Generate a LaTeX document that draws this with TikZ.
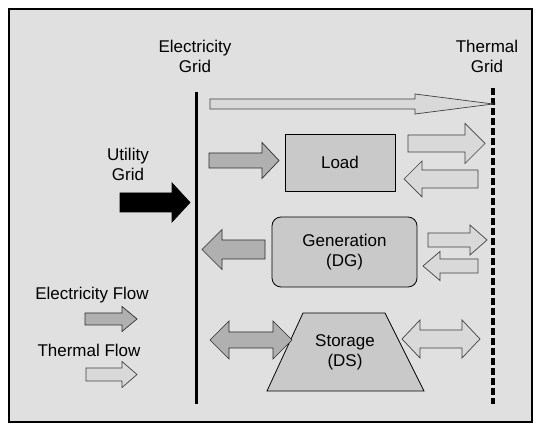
\documentclass[tikz,border=0pt]{standalone}
\usepackage{fontspec}
\setmainfont{Liberation Sans}
\newcommand{\rarr}[7]{\draw[#1] ({#2},{#4-#5}) -- ({#3-#7},{#4-#5}) -- ({#3-#7},{#4-#6}) -- ({#3},{#4}) -- ({#3-#7},{#4+#6}) -- ({#3-#7},{#4+#5}) -- ({#2},{#4+#5}) -- cycle;}
\newcommand{\larr}[7]{\draw[#1] ({#3},{#4-#5}) -- ({#2+#7},{#4-#5}) -- ({#2+#7},{#4-#6}) -- ({#2},{#4}) -- ({#2+#7},{#4+#6}) -- ({#2+#7},{#4+#5}) -- ({#3},{#4+#5}) -- cycle;}
\newcommand{\darr}[7]{\draw[#1] ({#2},{#4}) -- ({#2+#7},{#4-#6}) -- ({#2+#7},{#4-#5}) -- ({#3-#7},{#4-#5}) -- ({#3-#7},{#4-#6}) -- ({#3},{#4}) -- ({#3-#7},{#4+#6}) -- ({#3-#7},{#4+#5}) -- ({#2+#7},{#4+#5}) -- ({#2+#7},{#4+#6}) -- cycle;}
\tikzset{
  lbl/.style={font=\fontsize{17}{20}\selectfont, align=center, inner sep=0pt},
  box/.style={draw=black, line width=0.8pt, fill=gray!42},
  elec/.style={draw=gray!35!black, line width=0.7pt, fill=gray!62},
  therm/.style={draw=gray!50!black, line width=0.7pt, fill=gray!30},
  util/.style={draw=black, line width=0.7pt, fill=black},
  gridline/.style={line width=3pt, draw=black},
}
\begin{document}
\begin{tikzpicture}[x=1pt, y=-1pt]
\useasboundingbox (0,0) rectangle (539,427);
% frame
\draw[line width=1.8pt, fill=gray!24] (9,9) rectangle (532,422);
% grid lines
\coordinate (egtop) at (196,92);
\coordinate (egbot) at (196,404);
\coordinate (tgtop) at (493,88);
\coordinate (tgbot) at (493,404);
\draw[gridline] (egtop) -- (egbot);
\draw[gridline, line width=3.5pt, dash pattern=on 7pt off 3pt] (tgtop) -- (tgbot);
\node[lbl] (eglbl) at (195,56) {Electricity\\Grid};
\node[lbl] (tglbl) at (487,56) {Thermal\\Grid};
% boxes
\node[box, minimum width=110pt, minimum height=57pt, inner sep=0pt] (load) at (340,162.5) {};
\node[lbl] (loadt) at (load.center) {Load};
\node[box, rounded corners=9pt, minimum width=145pt, minimum height=70pt, inner sep=0pt] (gen) at (344.5,252) {};
\node[lbl] (gent) at (gen.center) {Generation\\(DG)};
\draw[box] (303,313) -- (385,313) -- (424,391) -- (267,391) -- cycle;
\node[lbl] (stor) at (345,352) {Storage\\(DS)};
% utility
\node[lbl] (util) at (128,164) {Utility\\Grid};
\rarr{util}{120}{190}{202.5}{9.5}{19.5}{18}
% arrows
\rarr{therm}{210}{493}{104}{5}{10}{78}
\rarr{elec}{209}{279}{160.5}{7.5}{18}{17}
\rarr{therm}{408}{485}{143.5}{8.5}{20}{20}
\larr{therm}{404}{478}{179}{9}{18}{18}
\larr{elec}{202}{265}{249.5}{9.5}{20}{20}
\rarr{therm}{428}{487}{240}{7}{15}{17}
\larr{therm}{423}{478}{266}{7}{14.5}{17}
\darr{elec}{210}{292}{340}{8}{19}{19}
\darr{therm}{402}{480}{339}{9}{19}{18}
% legend
\node[lbl] (leg1) at (92,295) {Electricity Flow};
\rarr{elec}{85}{137}{319}{6}{12.5}{15}
\node[lbl] (leg2) at (89,350) {Thermal Flow};
\rarr{therm}{86}{137}{374.5}{6.5}{13}{15}
\end{tikzpicture}
\end{document}
